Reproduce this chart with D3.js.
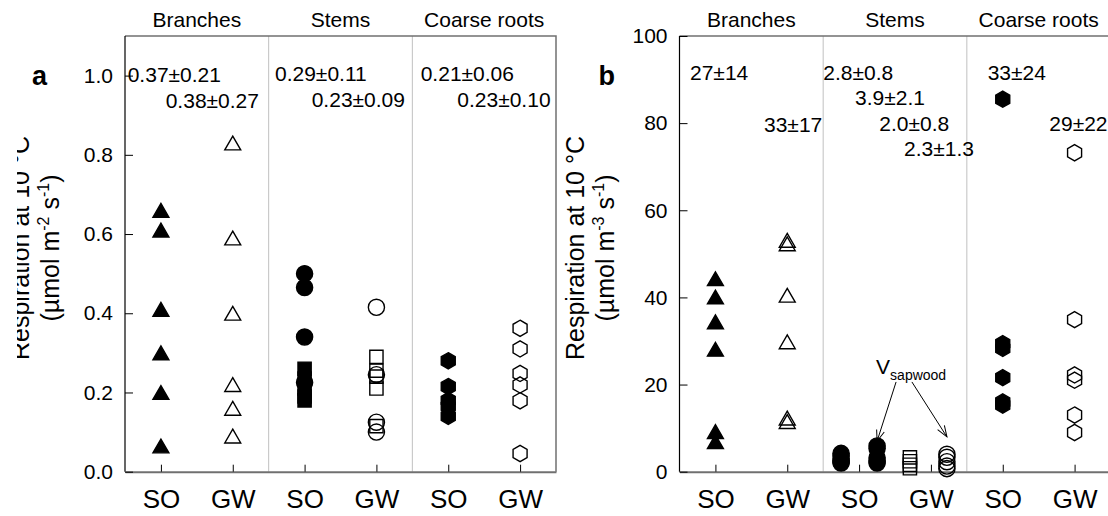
<!DOCTYPE html>
<html><head><meta charset="utf-8">
<script src="https://cdn.jsdelivr.net/npm/d3@7"></script>
<style>
html,body{margin:0;padding:0;background:#fff;}
svg{display:block;font-family:"Liberation Sans",Arial,Helvetica,sans-serif;}
</style></head><body>
<svg id="chart" width="1108" height="516"></svg>
<script>
// ---- categories and tick labels ----
const groups = ["SO", "GW", "SO", "GW", "SO", "GW"];
const tissues = ["Branches", "Stems", "Coarse roots"];
const ticksA = [0, 0.2, 0.4, 0.6, 0.8, 1.0];
const ticksB = [0, 20, 40, 60, 80, 100];

// ---- panel a: respiration per surface area (µmol m-2 s-1) ----
const aBranchSO = [0.66, 0.61, 0.41, 0.30, 0.20, 0.065];
const aBranchGW = [0.83, 0.59, 0.40, 0.22, 0.16, 0.09];
const aStemSOcircle = [0.50, 0.465, 0.34, 0.225];
const aStemSOsquare = [0.26, 0.235, 0.21, 0.19, 0.18];
const aStemGWcircle = [0.415, 0.245, 0.125, 0.10];
const aStemGWsquare = [0.29, 0.255, 0.24, 0.21, 0.115];
const aRootSO = [0.28, 0.215, 0.18, 0.165, 0.14];
const aRootGW = [0.362, 0.31, 0.248, 0.219, 0.179, 0.046];
const aMeans = ["0.37±0.21", "0.38±0.27", "0.29±0.11", "0.23±0.09", "0.21±0.06", "0.23±0.10"];

// ---- panel b: respiration per volume (µmol m-3 s-1) ----
const bBranchSO = [44.3, 40.1, 34.4, 28.1, 9.2, 6.9];
const bBranchGW = [53.1, 52.3, 40.5, 29.8, 12.3, 11.5];
const bStemSO = [4.2, 3.6, 3.0, 2.5, 2.2, 2.0];
const bStemSOsapwood = [5.9, 5.3, 3.2, 2.4, 2.0];
const bStemGW = [3.3, 2.4, 1.6, 0.8];
const bStemGWsapwood = [4.0, 3.3, 2.3, 1.3, 0.7];
const bRootSO = [85.5, 29.4, 28.3, 21.6, 16.0, 15.3];
const bRootGW = [73.2, 34.9, 22.2, 21.0, 13.0, 9.0];
const bMeans = ["27±14", "33±17", "2.8±0.8", "3.9±2.1", "2.0±0.8", "2.3±1.3", "33±24", "29±22"];

// ---- marker shapes ----
const triangleUp = {
  draw(ctx, size) {
    const s = Math.sqrt(size * 4 / Math.sqrt(3));
    const h = s * Math.sqrt(3) / 2;
    ctx.moveTo(0, -h / 2); ctx.lineTo(s / 2, h / 2); ctx.lineTo(-s / 2, h / 2); ctx.closePath();
  }
};
const hexagon = {
  draw(ctx, size) {
    const r = Math.sqrt(2 * size / (3 * Math.sqrt(3)));
    for (let k = 0; k < 6; k++) {
      const a = -Math.PI / 2 + k * Math.PI / 3;
      const px = r * Math.cos(a), py = r * Math.sin(a);
      if (k) ctx.lineTo(px, py); else ctx.moveTo(px, py);
    }
    ctx.closePath();
  }
};
const shapes = {
  triangle: { type: triangleUp, size: 110 },
  circle: { type: d3.symbolCircle, size: 205 },
  square: { type: d3.symbolSquare, size: 175 },
  hexagon: { type: hexagon, size: 170 }
};

const svg = d3.select("#chart");
const FONT = 21;
const defs = svg.append("defs");

defs.append("marker")
  .attr("id", "arrowhead").attr("viewBox", "-12 -6 14 12")
  .attr("markerWidth", 14).attr("markerHeight", 12)
  .attr("markerUnits", "userSpaceOnUse")
  .attr("refX", 0).attr("refY", 0).attr("orient", "auto")
  .append("path").attr("d", "M-11,-4 L0,0 L-11,4")
  .attr("fill", "none").attr("stroke", "#000").attr("stroke-width", 1);

// the left edge of the figure trims the first title line of panel a
defs.append("clipPath").attr("id", "titleClip")
  .append("rect").attr("x", 17).attr("y", 0).attr("width", 200).attr("height", 516);

function drawPanel(cfg) {
  const top = 36, bottom = 471.7;
  const x = d3.scalePoint().domain(d3.range(groups.length)).range([cfg.left, cfg.right]).padding(0.5);
  const y = d3.scaleLinear().domain(cfg.domain).range([bottom, top]);
  const g = svg.append("g");

  // column separators
  [1, 3].forEach(i => {
    const xs = (x(i) + x(i + 1)) / 2;
    g.append("line").attr("x1", xs).attr("x2", xs).attr("y1", top).attr("y2", bottom)
      .attr("stroke", "#c0c0c0").attr("stroke-width", 1);
  });

  // frame
  g.append("path")
    .attr("d", `M${cfg.left},${top}H${cfg.right}V${bottom}`)
    .attr("fill", "none").attr("stroke", "#707070").attr("stroke-width", 1.5);

  // bottom axis
  const xAxis = d3.axisBottom(x).tickSize(-7).tickSizeOuter(0).tickPadding(18)
    .tickFormat(i => groups[i]);
  const gx = g.append("g").attr("transform", `translate(0,${bottom})`).call(xAxis);
  gx.select(".domain").attr("stroke", "#707070").attr("stroke-width", 2);
  gx.selectAll(".tick line").attr("stroke", "#000").attr("stroke-width", 1);
  gx.selectAll(".tick text").attr("font-size", 26).attr("font-family", null).attr("fill", "#000");

  // left axis
  const yAxis = d3.axisLeft(y).tickValues(cfg.ticks).tickSize(-8).tickSizeOuter(0).tickPadding(12)
    .tickFormat(cfg.fmt);
  const gy = g.append("g").attr("transform", `translate(${cfg.left},0)`).call(yAxis);
  gy.select(".domain").attr("d", `M0,${top}V${bottom}`).attr("stroke", "#000").attr("stroke-width", 1.2);
  gy.selectAll(".tick line").attr("stroke", "#000").attr("stroke-width", 1);
  gy.selectAll(".tick text").attr("font-size", FONT).attr("font-family", null).attr("fill", "#000");

  // tissue headings
  tissues.forEach((t, k) => {
    g.append("text").attr("x", (x(2 * k) + x(2 * k + 1)) / 2).attr("y", 27)
      .attr("text-anchor", "middle").attr("font-size", FONT).text(t);
  });

  // points
  cfg.series.forEach(s => {
    const sh = shapes[s.shape];
    g.append("g").selectAll("path").data(s.values).join("path")
      .attr("transform", v => `translate(${x(s.group) + (s.dx || 0)},${y(v)})`)
      .attr("d", d3.symbol().type(sh.type).size(sh.size))
      .attr("fill", s.filled ? "#000" : "none")
      .attr("stroke", "#000").attr("stroke-width", 1.4);
  });

  // mean ± SD labels
  cfg.labels.forEach((txt, i) => {
    const p = cfg.labelPos[i];
    g.append("text").attr("x", cfg.left + p[0]).attr("y", p[1])
      .attr("font-size", FONT).text(txt);
  });

  // panel letter
  g.append("text").attr("x", cfg.left + cfg.letterDx).attr("y", 85)
    .attr("font-size", 27).attr("font-weight", "bold").text(cfg.letter);

  // y-axis title
  const cy = 248;
  const tg = g.append("g").attr("font-size", 25);
  const t1 = tg.append("text").attr("transform", `translate(${cfg.left - 96},${cy}) rotate(-90)`)
    .attr("text-anchor", "middle").text("Respiration at 10 °C");
  if (cfg.clipTitle) t1.attr("clip-path", null), tg.attr("clip-path", "url(#titleClip)");
  const t2 = tg.append("text").attr("transform", `translate(${cfg.left - 66},${cy}) rotate(-90)`)
    .attr("text-anchor", "middle");
  t2.append("tspan").text("(µmol m");
  t2.append("tspan").attr("font-size", 16).attr("dy", -10).text(cfg.unitExp);
  t2.append("tspan").attr("dy", 10).text(" s");
  t2.append("tspan").attr("font-size", 16).attr("dy", -10).text("-1");
  t2.append("tspan").attr("dy", 10).text(")");

  return { x, y, g };
}

// panel a
drawPanel({
  left: 125, right: 556, domain: [0, 1.1], ticks: ticksA, fmt: d3.format(".1f"),
  letter: "a", letterDx: -93, unitExp: "-2", clipTitle: true,
  series: [
    { values: aBranchSO, group: 0, shape: "triangle", filled: true },
    { values: aBranchGW, group: 1, shape: "triangle", filled: false },
    { values: aStemSOcircle, group: 2, shape: "circle", filled: true },
    { values: aStemSOsquare, group: 2, shape: "square", filled: true },
    { values: aStemGWsquare, group: 3, shape: "square", filled: false },
    { values: aStemGWcircle, group: 3, shape: "circle", filled: false },
    { values: aRootSO, group: 4, shape: "hexagon", filled: true },
    { values: aRootGW, group: 5, shape: "hexagon", filled: false }
  ],
  labels: aMeans,
  labelPos: [[2.7, 82], [40.7, 108], [150, 81], [186.7, 107], [295.7, 81], [332.3, 107]]
});

// panel b
const pb = drawPanel({
  left: 679.5, right: 1110.5, domain: [0, 100], ticks: ticksB, fmt: d3.format("d"),
  letter: "b", letterDx: -81, unitExp: "-3", clipTitle: false,
  series: [
    { values: bBranchSO, group: 0, shape: "triangle", filled: true },
    { values: bBranchGW, group: 1, shape: "triangle", filled: false },
    { values: bStemSO, group: 2, shape: "circle", filled: true, dx: -18 },
    { values: bStemSOsapwood, group: 2, shape: "circle", filled: true, dx: 18 },
    { values: bStemGW, group: 3, shape: "square", filled: false, dx: -21 },
    { values: bStemGWsapwood, group: 3, shape: "circle", filled: false, dx: 16 },
    { values: bRootSO, group: 4, shape: "hexagon", filled: true },
    { values: bRootGW, group: 5, shape: "hexagon", filled: false }
  ],
  labels: bMeans,
  labelPos: [[10.5, 80], [84.5, 132], [143.8, 80], [175.5, 105], [199.8, 130.5], [224.5, 156], [308.2, 80], [369.8, 130.5]]
});

// V_sapwood annotation with arrows to the sapwood-volume groups
const ann = pb.g.append("g");
const vt = ann.append("text").attr("x", pb.x(2) + 17).attr("y", pb.y(22.5)).attr("font-size", FONT);
vt.append("tspan").text("V");
vt.append("tspan").attr("font-size", 14).attr("dy", 6).text("sapwood");
[[pb.x(2) + 37, pb.y(20.6), pb.x(2) + 18, pb.y(7.0)],
 [pb.x(3) - 19, pb.y(20.6), pb.x(3) + 16, pb.y(8.0)]].forEach(([x1, y1, x2, y2]) => {
  ann.append("line").attr("x1", x1).attr("y1", y1).attr("x2", x2).attr("y2", y2)
    .attr("stroke", "#000").attr("stroke-width", 1).attr("marker-end", "url(#arrowhead)");
});
</script>
</body></html>
